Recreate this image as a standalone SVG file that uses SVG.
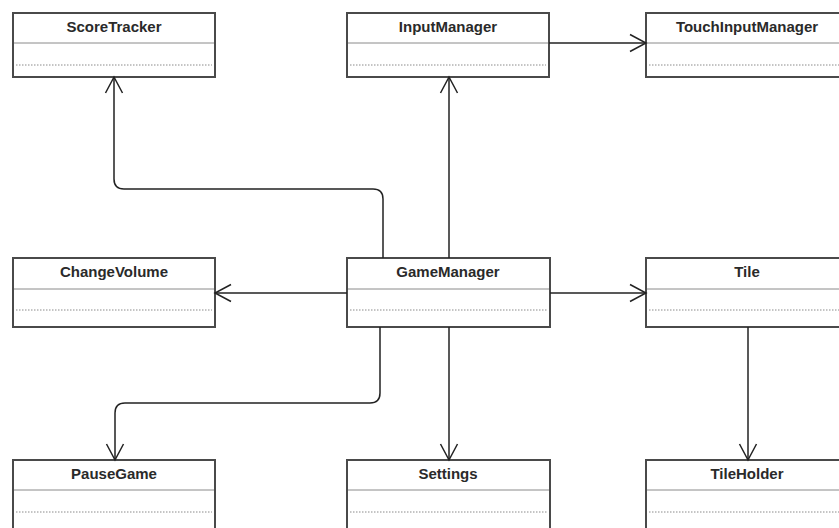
<svg xmlns="http://www.w3.org/2000/svg" width="839" height="528" viewBox="0 0 839 528">
<defs>
<style>
.box{fill:#fff;stroke:#4a4a4a;stroke-width:2}
.div{stroke:#8a8a8a;stroke-width:1}
.dot{stroke:#8a8a8a;stroke-width:1;stroke-dasharray:1.5,1.5}
.lbl{font-family:"Liberation Sans",Arial,sans-serif;font-size:15px;font-weight:bold;fill:#2a2a2a;text-anchor:middle}
.con{fill:none;stroke:#222;stroke-width:1.5}
</style>
<marker id="arr" markerUnits="userSpaceOnUse" markerWidth="20" markerHeight="20" viewBox="0 0 20 20" refX="17" refY="10" orient="auto">
<path d="M1,1.5 L17,10 L1,18.5" fill="none" stroke="#222" stroke-width="1.5"/>
</marker>
</defs>
<rect width="839" height="528" fill="#fff"/>

<g id="ScoreTracker">
<rect class="box" x="13" y="13" width="202" height="64"/>
<line class="div" x1="14" y1="43" x2="214" y2="43"/>
<line class="dot" x1="16" y1="65" x2="212" y2="65"/>
<text class="lbl" x="114" y="32">ScoreTracker</text>
</g>
<g id="InputManager">
<rect class="box" x="347" y="13" width="202" height="64"/>
<line class="div" x1="348" y1="43" x2="548" y2="43"/>
<line class="dot" x1="350" y1="65" x2="546" y2="65"/>
<text class="lbl" x="448" y="32">InputManager</text>
</g>
<g id="TouchInputManager">
<rect class="box" x="646" y="13" width="204" height="64"/>
<line class="div" x1="647" y1="43" x2="849" y2="43"/>
<line class="dot" x1="649" y1="65" x2="849" y2="65"/>
<text class="lbl" x="747" y="32">TouchInputManager</text>
</g>
<g id="ChangeVolume">
<rect class="box" x="13" y="258" width="202" height="69"/>
<line class="div" x1="14" y1="289" x2="214" y2="289"/>
<line class="dot" x1="16" y1="310" x2="212" y2="310"/>
<text class="lbl" x="114" y="277">ChangeVolume</text>
</g>
<g id="GameManager">
<rect class="box" x="347" y="258" width="203" height="69"/>
<line class="div" x1="348" y1="289" x2="549" y2="289"/>
<line class="dot" x1="350" y1="310" x2="547" y2="310"/>
<text class="lbl" x="448" y="277">GameManager</text>
</g>
<g id="Tile">
<rect class="box" x="646" y="258" width="204" height="69"/>
<line class="div" x1="647" y1="289" x2="849" y2="289"/>
<line class="dot" x1="649" y1="310" x2="849" y2="310"/>
<text class="lbl" x="747" y="277">Tile</text>
</g>
<g id="PauseGame">
<rect class="box" x="13" y="460" width="202" height="80"/>
<line class="div" x1="14" y1="490" x2="214" y2="490"/>
<line class="dot" x1="16" y1="512" x2="212" y2="512"/>
<text class="lbl" x="114" y="479">PauseGame</text>
</g>
<g id="Settings">
<rect class="box" x="347" y="460" width="203" height="80"/>
<line class="div" x1="348" y1="490" x2="549" y2="490"/>
<line class="dot" x1="350" y1="512" x2="547" y2="512"/>
<text class="lbl" x="448" y="479">Settings</text>
</g>
<g id="TileHolder">
<rect class="box" x="646" y="460" width="204" height="80"/>
<line class="div" x1="647" y1="490" x2="849" y2="490"/>
<line class="dot" x1="649" y1="512" x2="849" y2="512"/>
<text class="lbl" x="747" y="479">TileHolder</text>
</g>

<g id="connectors">
<path class="con" marker-end="url(#arr)" d="M383,258 V199 Q383,189 373,189 H124 Q114,189 114,179 V77"/>
<path class="con" marker-end="url(#arr)" d="M449,258 V77"/>
<path class="con" marker-end="url(#arr)" d="M549,43 H646"/>
<path class="con" marker-end="url(#arr)" d="M347,293 H215"/>
<path class="con" marker-end="url(#arr)" d="M550,293 H646"/>
<path class="con" marker-end="url(#arr)" d="M380,327 V393 Q380,403 370,403 H125 Q115,403 115,413 V460"/>
<path class="con" marker-end="url(#arr)" d="M449,327 V460"/>
<path class="con" marker-end="url(#arr)" d="M748,327 V460"/>
</g>
</svg>
